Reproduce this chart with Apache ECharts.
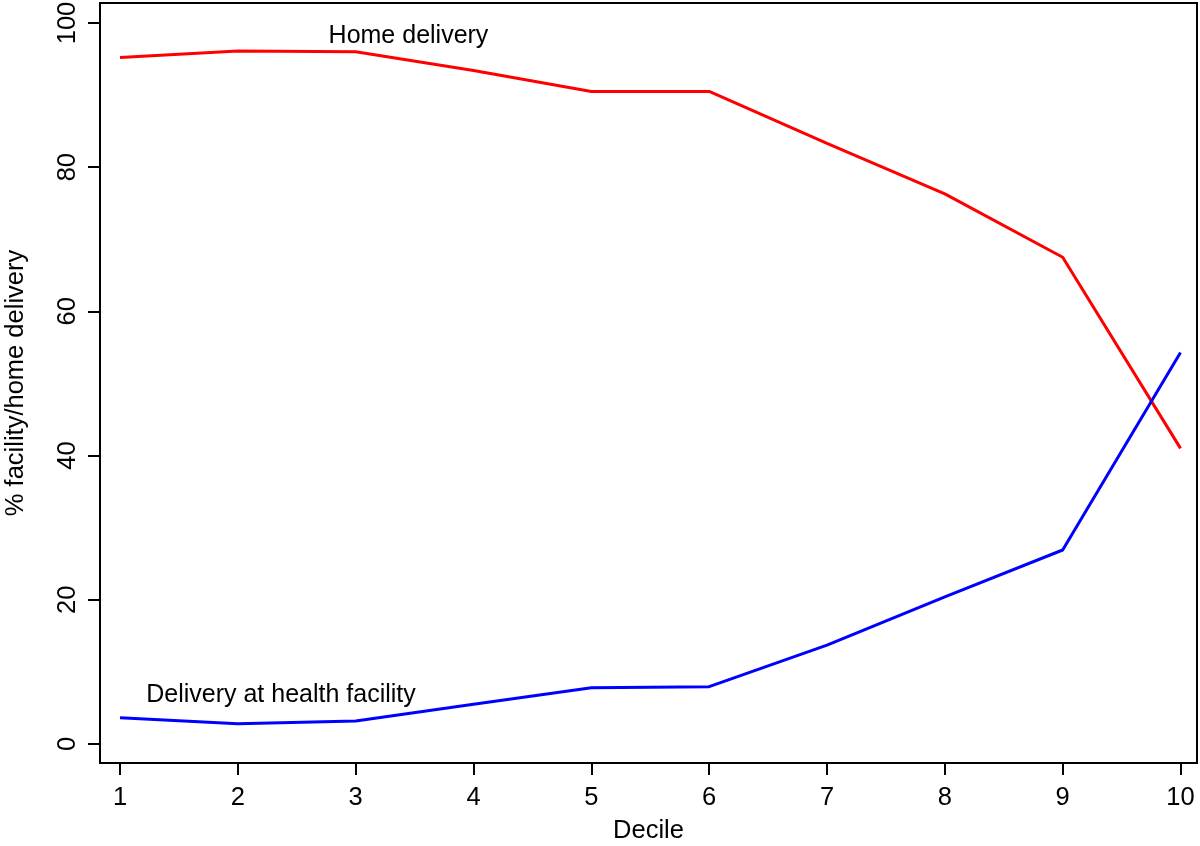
<!DOCTYPE html>
<html>
<head>
<meta charset="utf-8">
<script src="https://cdn.jsdelivr.net/npm/echarts@6/dist/echarts.min.js"></script>
<style>
html,body{margin:0;padding:0;background:#fff;}
#chart{width:1200px;height:846px;}
</style>
</head>
<body>
<div id="chart"></div>
<script>
const deciles = [1, 2, 3, 4, 5, 6, 7, 8, 9, 10];
const homeDelivery = [95.2, 96.1, 96.0, 93.4, 90.5, 90.5, 83.3, 76.3, 67.5, 41.0];
const facilityDelivery = [3.65, 2.8, 3.2, 5.5, 7.8, 7.95, 13.7, 20.4, 26.9, 54.3];
const xTicks = [1, 2, 3, 4, 5, 6, 7, 8, 9, 10];
const yTicks = [0, 20, 40, 60, 80, 100];
const homeLabelText = 'Home delivery';
const facilityLabelText = 'Delivery at health facility';
const homeLabelAt = [3.448, 98.2];
const facilityLabelAt = [2.366, 6.8];

const FONT = '"Liberation Sans", Arial, Helvetica, sans-serif';
const chart = echarts.init(document.getElementById('chart'), null, {renderer: 'canvas'});

chart.setOption({
  animation: false,
  backgroundColor: '#fff',
  textStyle: {color: '#000'},
  grid: {
    left: 100, top: 3, right: 3, bottom: 83,
    outerBoundsMode: 'none', containLabel: false,
    show: true, borderColor: '#000', borderWidth: 2, backgroundColor: 'transparent'
  },
  xAxis: {
    type: 'value', min: 0.83, max: 10.14,
    name: 'Decile', nameLocation: 'middle', nameGap: 55,
    nameTextStyle: {fontFamily: FONT, fontSize: 25.5, color: '#000'},
    axisLine: {show: true, onZero: false, lineStyle: {color: '#000', width: 2}},
    axisTick: {show: true, length: 12, customValues: xTicks, lineStyle: {color: '#000', width: 2}},
    axisLabel: {customValues: xTicks, margin: 22, fontFamily: FONT, fontSize: 25.5, color: '#000'},
    splitLine: {show: false}
  },
  yAxis: {
    type: 'value', min: -2.64, max: 102.77,
    name: '% facility/home delivery', nameLocation: 'middle', nameGap: 71,
    nameTextStyle: {fontFamily: FONT, fontSize: 25.5, color: '#000'},
    axisLine: {show: true, onZero: false, lineStyle: {color: '#000', width: 2}},
    axisTick: {show: true, length: 12, customValues: yTicks, lineStyle: {color: '#000', width: 2}},
    axisLabel: {customValues: yTicks, rotate: 90, margin: 19, fontFamily: FONT, fontSize: 25.5, color: '#000'},
    splitLine: {show: false}
  },
  series: [
    {
      type: 'line', name: 'Home delivery',
      data: deciles.map((d, i) => [d, homeDelivery[i]]),
      showSymbol: false, symbol: 'none',
      lineStyle: {color: '#ff0000', width: 3},
      itemStyle: {color: '#ff0000'}
    },
    {
      type: 'line', name: 'Delivery at health facility',
      data: deciles.map((d, i) => [d, facilityDelivery[i]]),
      showSymbol: false, symbol: 'none',
      lineStyle: {color: '#0000ff', width: 3},
      itemStyle: {color: '#0000ff'}
    },
    {
      type: 'scatter', symbolSize: 0, silent: true,
      itemStyle: {opacity: 1, color: '#000'},
      data: [
        {value: homeLabelAt, name: homeLabelText},
        {value: facilityLabelAt, name: facilityLabelText}
      ],
      label: {
        show: true, position: 'inside', formatter: p => p.name, opacity: 1,
        fontFamily: FONT, fontSize: 25, color: '#000', textBorderWidth: 0
      }
    }
  ]
});
</script>
</body>
</html>
